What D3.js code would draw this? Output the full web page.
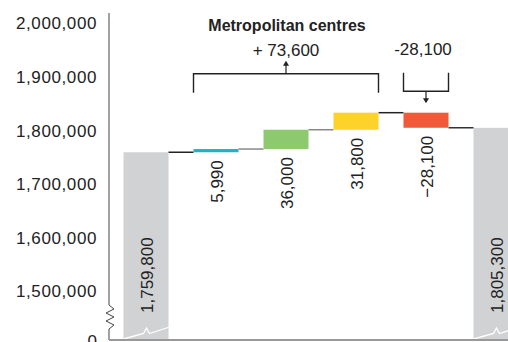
<!DOCTYPE html>
<html>
<head>
<meta charset="utf-8">
<script src="https://cdn.jsdelivr.net/npm/d3@7"></script>
<style>
  html, body { margin: 0; padding: 0; background: #fff; }
  svg { display: block; font-family: "Liberation Sans", Arial, sans-serif; }
</style>
</head>
<body>
<script>
// Waterfall: opening total, four changes, closing total
const categories = ["opening", "change1", "change2", "change3", "change4", "closing"];
const openingTotal = 1759800;
const closingTotal = 1805300;
const changes = [5990, 36000, 31800, -28100];
const changeColors = ["#1cb4c4", "#8dca6f", "#fdd22a", "#f15a38"];
const tickValues = [1500000, 1600000, 1700000, 1800000, 1900000, 2000000];
const groupTitle = "Metropolitan centres";
const groupTotals = ["+ 73,600", "-28,100"];

const W = 508, H = 342;
const axisX = 109, baseY = 340;
const fmt = d3.format(",");

const svg = d3.select("body").append("svg").attr("width", W).attr("height", H);

const y = d3.scaleLinear().domain([1500000, 2000000]).range([291.5, 23.5]);
const x = d3.scaleBand().domain(categories).range([123.5, 518.5])
  .paddingInner(25 / 70).paddingOuter(0);
const bw = x.bandwidth();

// running totals for each change
let level = openingTotal;
const steps = changes.map((v, i) => {
  const s = { key: categories[i + 1], value: v, from: level, to: level + v, color: changeColors[i] };
  level += v;
  return s;
});

// y axis labels
const ax = svg.append("g").attr("transform", `translate(${axisX},0)`)
  .call(d3.axisLeft(y).tickValues(tickValues).tickFormat(fmt).tickSize(0).tickPadding(12));
ax.select(".domain").remove();
ax.selectAll("text").attr("font-size", 17).attr("fill", "#222")
  .attr("letter-spacing", "0.6px").attr("font-family", "Liberation Sans, Arial, sans-serif");
svg.append("text").attr("x", axisX - 12).attr("y", baseY + 7)
  .attr("text-anchor", "end").attr("font-size", 17).attr("fill", "#222").text("0");

// axis line with a break near the bottom
svg.append("path")
  .attr("d", d3.line()([[axisX, 13], [axisX, 305], [axisX + 5, 309], [axisX - 3, 313], [axisX + 5, 317],
    [axisX - 3, 321], [axisX + 5, 325], [axisX, 329], [axisX, baseY]]))
  .attr("fill", "none").attr("stroke", "#444").attr("stroke-width", 1);

// opening and closing totals (grey)
const totals = [
  { key: "opening", value: openingTotal },
  { key: "closing", value: closingTotal }
];
svg.selectAll("rect.total").data(totals).join("rect")
  .attr("class", "total")
  .attr("x", d => x(d.key)).attr("width", bw)
  .attr("y", d => y(d.value)).attr("height", d => baseY - y(d.value))
  .attr("fill", "#d1d2d4");

// break marks across the grey bars
svg.selectAll("path.brk").data(totals).join("path")
  .attr("class", "brk")
  .attr("d", d => {
    const x0 = x(d.key);
    return d3.line()([[x0, 339], [x0 + 20, 333.5], [x0 + 23, 328], [x0 + 26, 333.5], [x0 + 46, 327]]);
  })
  .attr("fill", "none").attr("stroke", "#fff").attr("stroke-width", 1.3);

svg.selectAll("text.total").data(totals).join("text")
  .attr("class", "total")
  .attr("transform", d => `translate(${x(d.key) + bw / 2 + 1},313) rotate(-90)`)
  .attr("dy", "0.35em").attr("font-size", 17).attr("fill", "#222")
  .text(d => fmt(d.value));

// baseline
svg.append("line").attr("x1", axisX).attr("x2", W).attr("y1", baseY).attr("y2", baseY)
  .attr("stroke", "#999").attr("stroke-width", 2);

// connectors between bars
const levels = [openingTotal, ...steps.map(s => s.to)];
const connectorColors = ["#222", "#888", "#888", "#222", "#333"];
svg.selectAll("line.conn").data(levels).join("line")
  .attr("class", "conn")
  .attr("x1", (d, i) => x(categories[i]) + bw)
  .attr("x2", (d, i) => x(categories[i + 1]))
  .attr("y1", d => y(d)).attr("y2", d => y(d))
  .attr("stroke", (d, i) => connectorColors[i]).attr("stroke-width", 1.5);

// change bars
svg.selectAll("rect.step").data(steps).join("rect")
  .attr("class", "step")
  .attr("x", d => x(d.key)).attr("width", bw)
  .attr("y", d => y(Math.max(d.from, d.to)))
  .attr("height", d => Math.abs(y(d.from) - y(d.to)))
  .attr("fill", d => d.color);

svg.selectAll("text.step").data(steps).join("text")
  .attr("class", "step")
  .attr("transform", d => `translate(${x(d.key) + bw / 2 + 1},${y(Math.min(d.from, d.to)) + 8}) rotate(-90)`)
  .attr("text-anchor", "end").attr("dy", "0.35em")
  .attr("font-size", 17).attr("fill", "#222")
  .text(d => fmt(d.value));

// group brackets
const topY = y(d3.max(steps, s => Math.max(s.from, s.to)));
const ink = "#222";
const g1x0 = x(steps[0].key), g1x1 = x(steps[2].key) + bw, g1mid = (g1x0 + g1x1) / 2;
const b1y = topY - 39;
svg.append("path")
  .attr("d", d3.line()([[g1x0, topY - 20], [g1x0, b1y], [g1x1, b1y], [g1x1, topY - 20]]))
  .attr("fill", "none").attr("stroke", ink).attr("stroke-width", 1.4);
svg.append("line").attr("x1", g1mid).attr("x2", g1mid).attr("y1", b1y).attr("y2", b1y - 9)
  .attr("stroke", ink).attr("stroke-width", 1.2);
svg.append("path")
  .attr("d", `M${g1mid - 3},${b1y - 8} L${g1mid + 3},${b1y - 8} L${g1mid},${b1y - 13} Z`)
  .attr("fill", ink);
svg.append("text").attr("x", g1mid + 1).attr("y", 25).attr("dy", "0.35em")
  .attr("text-anchor", "middle").attr("font-size", 16).attr("font-weight", "bold")
  .attr("fill", "#222").text(groupTitle);
svg.append("text").attr("x", g1mid).attr("y", 50).attr("dy", "0.35em")
  .attr("text-anchor", "middle").attr("font-size", 17).attr("fill", "#222").text(groupTotals[0]);

const g2x0 = x(steps[3].key), g2x1 = x(steps[3].key) + bw, g2mid = (g2x0 + g2x1) / 2;
const b2y = topY - 21.5;
svg.append("path")
  .attr("d", d3.line()([[g2x0, topY - 40], [g2x0, b2y], [g2x1, b2y], [g2x1, topY - 40]]))
  .attr("fill", "none").attr("stroke", ink).attr("stroke-width", 1.4);
svg.append("line").attr("x1", g2mid).attr("x2", g2mid).attr("y1", b2y).attr("y2", b2y + 8)
  .attr("stroke", ink).attr("stroke-width", 1.2);
svg.append("path")
  .attr("d", `M${g2mid - 3},${b2y + 7} L${g2mid + 3},${b2y + 7} L${g2mid},${b2y + 12} Z`)
  .attr("fill", ink);
svg.append("text").attr("x", g2mid - 3).attr("y", 49).attr("dy", "0.35em")
  .attr("text-anchor", "middle").attr("font-size", 17).attr("fill", "#222").text(groupTotals[1]);
</script>
</body>
</html>
